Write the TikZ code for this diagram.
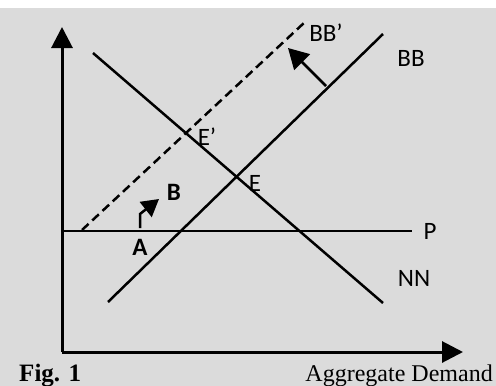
\documentclass[tikz,border=0pt]{standalone}
\usepackage{fontspec}
\setmainfont{Liberation Serif}
\newfontfamily\lblfont{Carlito}
\usetikzlibrary{arrows.meta}

\begin{document}
\begin{tikzpicture}[x=1pt,y=-1pt,line width=2.5pt,
    lbl/.style={inner sep=0pt,font=\lblfont\fontsize{25}{27}\selectfont},
    lblb/.style={inner sep=0pt,font=\lblfont\bfseries\fontsize{25}{27}\selectfont},
    shiftarrow/.style={-{Triangle[width=22pt,length=20pt]}}]
        \useasboundingbox (0,0) rectangle (496,386);
        \fill[black!14] (0,8) rectangle (496,386);

        % Eixos
        \coordinate (O) at (62,352);
        \coordinate (ytop) at (62,27);
        \coordinate (xend) at (463,352);
        \draw[line width=3pt,-{Triangle[width=21pt,length=21pt]}] (O) -- (ytop);
        \draw[line width=3pt,-{Triangle[width=21pt,length=21pt]}] (O) -- (xend);

        % Linha P
        \coordinate (p0) at (62,231);
        \coordinate (p1) at (412,231);
        \draw (p0) -- (p1);
        \node[lbl] (labP) at (430,231) {P};

        % Curva NN
        \coordinate (nn0) at (93,53);
        \coordinate (nn1) at (383,303);
        \draw (nn0) -- (nn1);
        \node[lbl] (labNN) at (414,278) {NN};

        % Curva BB
        \coordinate (bb0) at (108,302);
        \coordinate (bb1) at (383,34);
        \draw (bb0) -- (bb1);
        \node[lbl] (labBB) at (411,58) {BB};

        % Curva BB' (deslocada)
        \coordinate (bbp0) at (82,230);
        \coordinate (bbp1) at (305,22);
        \draw[dash pattern=on 9pt off 5pt] (bbp0) -- (bbp1);
        \node[lbl] (labBBp) at (326,33) {BB’};

        % Deslocamento de BB
        \coordinate (sh0) at (326,86);
        \coordinate (sh1) at (288,48);
        \draw[shiftarrow] (sh0) -- (sh1);

        % Equilibrios
        \node[lbl] (labE) at (255,183) {E};
        \node[lbl] (labEp) at (207,137) {E’};

        % Pontos A e B
        \node[lblb] (labA) at (140,247) {A};
        \node[lblb] (labB) at (174,192) {B};
        \coordinate (ab0) at (140,228);
        \coordinate (ab1) at (159,199);
        \draw[-{Triangle[width=19pt,length=17pt]}] (ab0) -- (140,214) -- (ab1);

        % Titulos
        \node[anchor=base west,inner sep=0pt,font=\bfseries\fontsize{25}{27}\selectfont] (fig) at (18,381) {Fig. 1};
        \node[anchor=base east,inner sep=0pt,font=\fontsize{24}{26}\selectfont] (xlab) at (494,381) {Aggregate Demand};
    \end{tikzpicture}
\end{document}
